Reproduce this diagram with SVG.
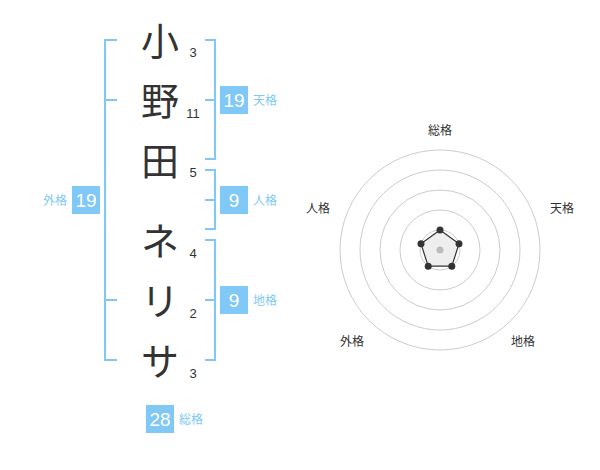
<svg xmlns="http://www.w3.org/2000/svg" width="600" height="470" viewBox="0 0 600 470">
<style>
.ch{font-family:"Noto Sans CJK JP","Noto Sans CJK SC",sans-serif;font-size:38px;fill:#333;text-anchor:middle}
.num{font-family:"Liberation Sans",Arial,sans-serif;font-size:13px;fill:#333;text-anchor:middle}
.br{fill:none;stroke:#80c8f5;stroke-width:2}
.box{fill:#80c8f5}
.bv{font-family:"Liberation Sans",Arial,sans-serif;font-size:19px;fill:#fff;text-anchor:middle}
.lb{font-family:"Noto Sans CJK JP","Noto Sans CJK SC",sans-serif;font-size:12px;fill:#80c8f5}
.rl{font-family:"Noto Sans CJK JP","Noto Sans CJK SC",sans-serif;font-size:12px;fill:#333;text-anchor:middle}
.ring{fill:none;stroke:#ccc;stroke-width:1}
.dot{fill:#333}
</style>
<rect width="600" height="470" fill="#fff"/>
<g id="chars">
<g id="c1"><text class="ch" x="160" y="55">小</text><text class="num" x="193" y="57">3</text></g>
<g id="c2"><text class="ch" x="160" y="115">野</text><text class="num" x="193" y="118">11</text></g>
<g id="c3"><text class="ch" x="160" y="175">田</text><text class="num" x="193" y="177">5</text></g>
<g id="c4"><text class="ch" x="160" y="255">ネ</text><text class="num" x="193" y="258">4</text></g>
<g id="c5"><text class="ch" x="160" y="315">リ</text><text class="num" x="193" y="318">2</text></g>
<g id="c6"><text class="ch" x="160" y="375">サ</text><text class="num" x="193" y="378">3</text></g>
</g>
<g id="connectors">
<path class="br" d="M117,40 H105 V360 H117 M105,100 H117 M105,300 H117"/>
<path class="br" d="M205,40 H215 V159 H205 M215,100 H205"/>
<path class="br" d="M205,170 H215 V229 H205 M215,200 H205"/>
<path class="br" d="M205,240 H215 V360 H205 M215,300 H205"/>
</g>
<g id="tenkaku"><rect class="box" x="220" y="86" width="28" height="28"/><text class="bv" x="234" y="107">19</text><text class="lb" x="253" y="105">天格</text></g>
<g id="jinkaku"><rect class="box" x="220" y="186" width="28" height="28"/><text class="bv" x="234" y="207">9</text><text class="lb" x="253" y="205">人格</text></g>
<g id="chikaku"><rect class="box" x="220" y="286" width="28" height="28"/><text class="bv" x="234" y="307">9</text><text class="lb" x="253" y="305">地格</text></g>
<g id="gaikaku"><rect class="box" x="72" y="186" width="28" height="28"/><text class="bv" x="86" y="207">19</text><text class="lb" x="67" y="205" text-anchor="end">外格</text></g>
<g id="soukaku"><rect class="box" x="146" y="405" width="28" height="28"/><text class="bv" x="160" y="426">28</text><text class="lb" x="179" y="424">総格</text></g>
<g id="radar">
<circle class="ring" cx="440" cy="250" r="20"/>
<circle class="ring" cx="440" cy="250" r="40"/>
<circle class="ring" cx="440" cy="250" r="60"/>
<circle class="ring" cx="440" cy="250" r="80"/>
<circle class="ring" cx="440" cy="250" r="100"/>
<polygon points="440,230 459,243.8 451.8,266.2 428.2,266.2 421,243.8" fill="#eee" stroke="#333" stroke-width="1.2"/>
<circle cx="440" cy="250" r="3.5" fill="#bbb"/>
<circle class="dot" cx="440" cy="230" r="3.5"/>
<circle class="dot" cx="459" cy="243.8" r="3.5"/>
<circle class="dot" cx="451.8" cy="266.2" r="3.5"/>
<circle class="dot" cx="428.2" cy="266.2" r="3.5"/>
<circle class="dot" cx="421" cy="243.8" r="3.5"/>
<text class="rl" x="440" y="135">総格</text>
<text class="rl" x="562" y="213">天格</text>
<text class="rl" x="318" y="213">人格</text>
<text class="rl" x="352" y="346">外格</text>
<text class="rl" x="523" y="346">地格</text>
</g>
</svg>
